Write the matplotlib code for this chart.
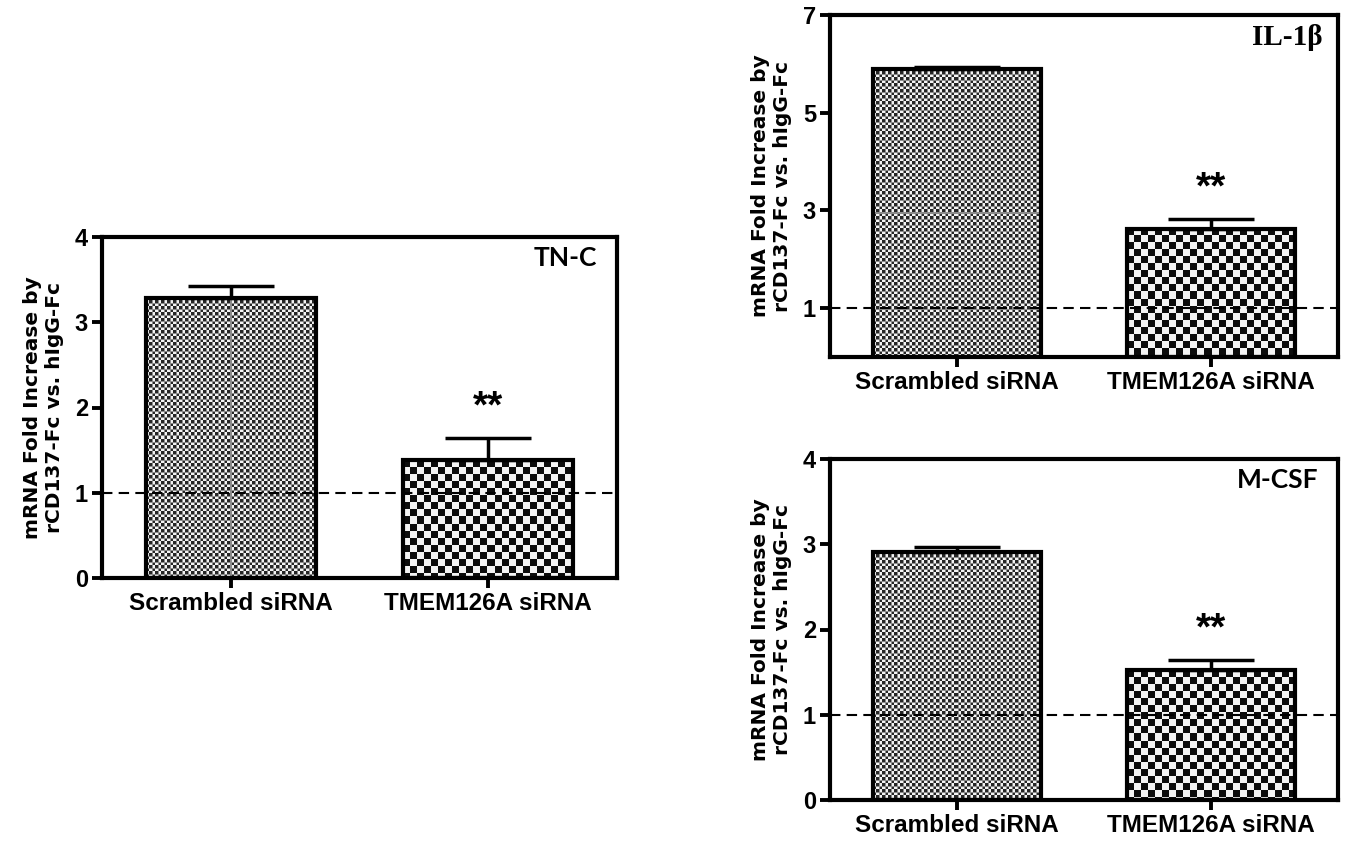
import numpy as np
import matplotlib
matplotlib.use("Agg")
import matplotlib.pyplot as plt

# data
groups = ['Scrambled siRNA', 'TMEM126A siRNA']

tnc_mean = [3.29, 1.38]
tnc_err = [0.14, 0.26]

il1b_mean = [5.90, 2.63]
il1b_err = [0.04, 0.19]

mcsf_mean = [2.91, 1.52]
mcsf_err = [0.06, 0.12]

ylabel = 'mRNA Fold Increase by\nrCD137-Fc vs. hIgG-Fc'

fig = plt.figure(figsize=(13.47, 8.41), dpi=100)
W, H = 1347.0, 841.0


def box(x0, y0, x1, y1):
    # pixel box -> figure fraction rect
    return [x0 / W, 1 - y1 / H, (x1 - x0) / W, (y1 - y0) / H]


def pattern(nx, ny, kind):
    j, i = np.meshgrid(np.arange(nx), np.arange(ny))
    if kind == 'fine':
        c = ((i // 3 + j // 3) % 2).astype(float)
        c = 0.15 + 0.8 * c
        c[(i % 6 == 0) | (j % 6 == 0)] = 0.55
        return c
    c = ((i // 7 + j // 7) % 2).astype(float)
    return 0.05 + 0.9 * c


def panel(ax, means, errs, ymax, yticks, name, name_font, name_x=0.962):
    x = np.arange(len(groups))
    ax.set_xlim(-0.5, 1.5)
    ax.set_ylim(0, ymax)
    bars = ax.bar(x, means, width=0.66, facecolor='none', edgecolor='black',
                  linewidth=3, zorder=3)
    for b, kind in zip(bars, ['fine', 'coarse']):
        x0, w, h = b.get_x(), b.get_width(), b.get_height()
        p0 = ax.transData.transform((x0, 0))
        p1 = ax.transData.transform((x0 + w, h))
        nx, ny = int(abs(p1[0] - p0[0])), int(abs(p1[1] - p0[1]))
        im = ax.imshow(pattern(nx, ny, kind), cmap='gray', vmin=0, vmax=1,
                       extent=(x0, x0 + w, 0, h), interpolation='nearest',
                       aspect='auto', zorder=2)
        im.set_clip_path(b)
    ax.errorbar(x, means, yerr=[np.zeros(len(errs)), errs], fmt='none',
                ecolor='black', elinewidth=2.5, capsize=31, capthick=2.5, zorder=4)
    ax.axhline(1, color='black', linestyle=(0, (5, 3)), linewidth=1.5, zorder=5)
    ax.set_xlim(-0.5, 1.5)
    ax.set_ylim(0, ymax)
    ax.set_yticks(yticks)
    ax.set_xticks(x)
    ax.set_xticklabels(groups, fontsize=17.5, fontweight='bold', family='Liberation Sans')
    for t in ax.get_yticklabels():
        t.set_fontsize(17)
        t.set_fontweight('bold')
        t.set_family('Liberation Sans')
    ax.tick_params(direction='out', length=7, width=2.8, pad=3)
    for s in ax.spines.values():
        s.set_linewidth(3)
    ax.set_ylabel(ylabel, fontsize=14.5, fontweight='bold', family='DejaVu Sans',
                  labelpad=8, linespacing=1.15)
    # significance stars above the knock-down bar
    ax.text(x[1], means[1] + errs[1] + 0.09 * ymax, '**', ha='center', va='center',
            fontsize=28, fontweight='bold', family='Liberation Sans')
    ax.text(name_x, 0.975, name, transform=ax.transAxes, ha='right', va='top', **name_font)


ax1 = fig.add_axes(box(102, 237, 617, 578))
panel(ax1, tnc_mean, tnc_err, 4, [0, 1, 2, 3, 4], 'TN-C',
      dict(fontsize=19, family='Lato', fontweight='bold'))

ax2 = fig.add_axes(box(830, 15, 1338, 357))
panel(ax2, il1b_mean, il1b_err, 7, [1, 3, 5, 7], 'IL-1β',
      dict(fontsize=21, family='Liberation Serif', fontweight='bold'), name_x=0.97)

ax3 = fig.add_axes(box(830, 459, 1338, 800))
panel(ax3, mcsf_mean, mcsf_err, 4, [0, 1, 2, 3, 4], 'M-CSF',
      dict(fontsize=19, family='Lato', fontweight='bold'))

fig.savefig('out.png', dpi=100)
